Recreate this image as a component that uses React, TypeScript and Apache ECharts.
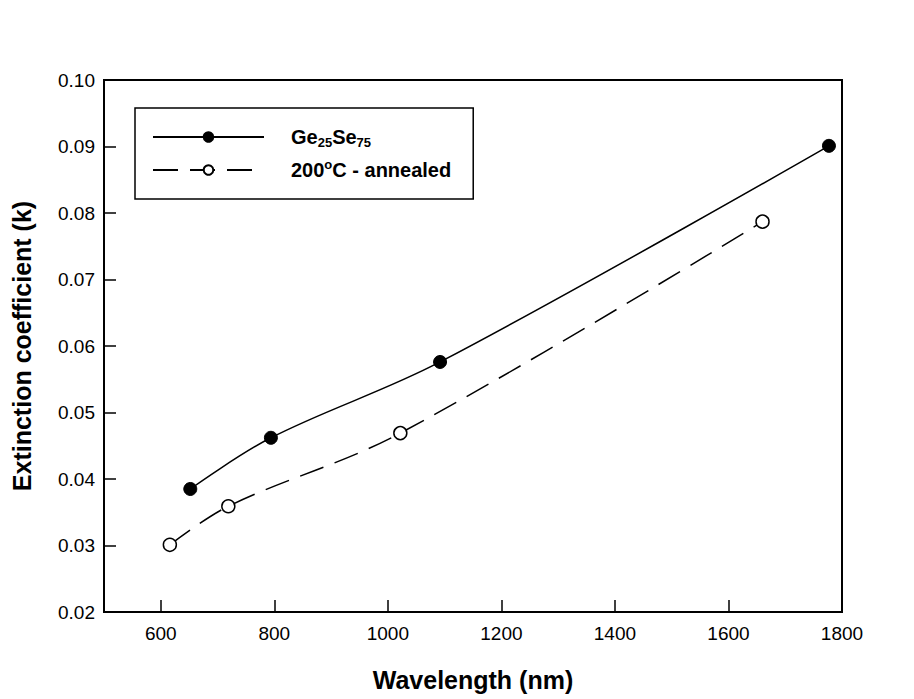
import React, { useEffect, useRef } from "react";
import * as echarts from "echarts";

const geSeX = [652, 794, 1092, 1777];
const geSeY = [0.0385, 0.0462, 0.0576, 0.0901];
const annX = [616, 719, 1022, 1660];
const annY = [0.0301, 0.0359, 0.0469, 0.0787];
const xTicks = [600, 800, 1000, 1200, 1400, 1600, 1800];
const yTicks = [0.02, 0.03, 0.04, 0.05, 0.06, 0.07, 0.08, 0.09, 0.1];
const seriesNames = ["Ge25Se75", "200C - annealed"];

export default function App() {
  const ref = useRef<HTMLDivElement>(null);
  useEffect(() => {
    document.body.style.margin = "0";
    const chart = echarts.init(ref.current!, null, { renderer: "svg" });
    const font = "Liberation Sans, Arial, sans-serif";
    chart.setOption({
      animation: false,
      backgroundColor: "#fff",
      grid: {
        left: 104,
        right: 72,
        top: 80,
        bottom: 87,
        show: true,
        borderColor: "#000",
        borderWidth: 2,
      },
      legend: {
        left: 135,
        top: 108,
        orient: "vertical",
        itemWidth: 111,
        itemHeight: 12,
        itemGap: 9,
        padding: [19, 22, 19, 17],
        borderColor: "#000",
        borderWidth: 1.5,
        backgroundColor: "#fff",
        data: seriesNames,
        formatter: (name: string) =>
          name === seriesNames[0]
            ? "{sp|}{b|Ge}{sub|25}{b|Se}{sub|75}"
            : "{sp|}{b|200}{sup|o}{b|C - annealed}",
        textStyle: {
          fontFamily: font,
          fontSize: 20,
          color: "#000",
          rich: {
            sp: { width: 22 },
            b: { fontSize: 20, fontWeight: "bold", fontFamily: font, color: "#000", lineHeight: 24, verticalAlign: "middle" },
            sub: { fontSize: 13, fontWeight: "bold", fontFamily: font, color: "#000", verticalAlign: "bottom", lineHeight: 24 },
            sup: { fontSize: 13, fontWeight: "bold", fontFamily: font, color: "#000", verticalAlign: "top", lineHeight: 24 },
          },
        },
      },
      xAxis: {
        type: "value",
        min: 500,
        max: 1800,
        name: "Wavelength (nm)",
        nameLocation: "middle",
        nameGap: 55,
        nameTextStyle: { fontFamily: font, fontSize: 25, fontWeight: "bold", color: "#000" },
        axisLine: { show: true, lineStyle: { color: "#000", width: 2 } },
        axisTick: { show: true, inside: true, length: 12, customValues: xTicks, lineStyle: { color: "#000", width: 1.5 } },
        axisLabel: {
          customValues: xTicks,
          fontFamily: font,
          fontSize: 19,
          color: "#000",
          margin: 12,
          formatter: (v: number) => String(v),
        },
        splitLine: { show: false },
      },
      yAxis: {
        type: "value",
        min: 0.02,
        max: 0.1,
        interval: 0.01,
        name: "Extinction coefficient (k)",
        nameLocation: "middle",
        nameGap: 70,
        nameTextStyle: { fontFamily: font, fontSize: 25, fontWeight: "bold", color: "#000" },
        axisLine: { show: true, lineStyle: { color: "#000", width: 2 } },
        axisTick: { show: true, inside: true, length: 12, customValues: yTicks, lineStyle: { color: "#000", width: 1.5 } },
        axisLabel: {
          customValues: yTicks,
          fontFamily: font,
          fontSize: 19,
          color: "#000",
          margin: 9,
          formatter: (v: number) => v.toFixed(2),
        },
        splitLine: { show: false },
      },
      series: [
        {
          name: seriesNames[0],
          type: "line",
          smooth: 0.35,
          data: geSeX.map((x, i) => [x, geSeY[i]]),
          symbol: "circle",
          symbolSize: 13,
          lineStyle: { color: "#000", width: 1.5 },
          itemStyle: { color: "#000", borderColor: "#000", borderWidth: 1 },
        },
        {
          name: seriesNames[1],
          type: "line",
          smooth: 0.35,
          data: annX.map((x, i) => [x, annY[i]]),
          symbol: "circle",
          symbolSize: 13,
          lineStyle: { color: "#000", width: 1.5, type: [25, 12] },
          itemStyle: { color: "#fff", borderColor: "#000", borderWidth: 1.5 },
        },
      ],
    });
    return () => chart.dispose();
  }, []);
  return <div ref={ref} style={{ width: 914, height: 699 }} />;
}
